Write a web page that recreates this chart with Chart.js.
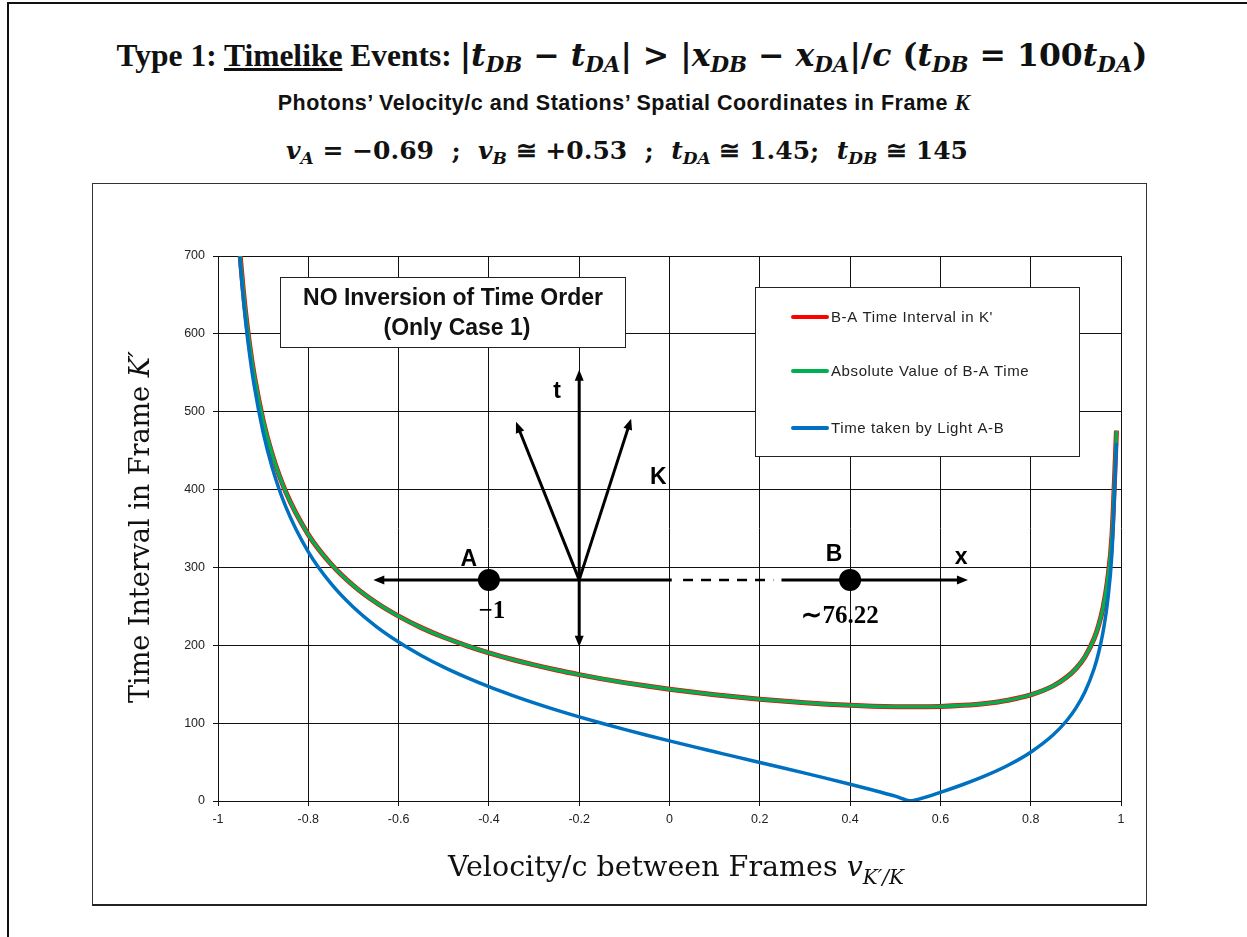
<!DOCTYPE html>
<html>
<head>
<meta charset="utf-8">
<script src="https://cdn.jsdelivr.net/npm/chart.js@4.4.0/dist/chart.umd.min.js"></script>
<style>
  body { margin: 0; width: 1247px; height: 937px; background: #fff; position: relative; overflow: hidden; }
  .edge { position: absolute; left: 7px; top: 2px; width: 1250px; height: 950px;
          border-top: 2px solid #111; border-left: 2px solid #111; }
  .hd { position: absolute; white-space: nowrap; color: #111; transform: translateX(-50%); }
  .t1 { left: 632px; top: 36px; font: bold 31.5px "Liberation Serif", serif; }
  .t2 { left: 624px; top: 90px; font: bold 21.5px "Liberation Sans", Arial, sans-serif; letter-spacing: 0.5px; }
  .t3 { left: 627px; top: 136px; font: bold 25px "Liberation Serif", serif; }
  .m { font-family: "DejaVu Serif", serif; }
  .m i { font-style: italic; }
  sub { font-size: 0.68em; vertical-align: -0.3em; font-style: italic; }
  .box { position: absolute; left: 92px; top: 183px; width: 1053px; height: 720px;
         border: 1px solid #333; border-bottom: 2px solid #222; }
  canvas { display: block; }
</style>
</head>
<body>
<div class="edge"></div>

<div class="hd t1">Type 1: <u>Timelike</u> Events: <span class="m">|<i>t</i><sub>DB</sub> − <i>t</i><sub>DA</sub>| &gt; |<i>x</i><sub>DB</sub> − <i>x</i><sub>DA</sub>|/<i>c</i> (<i>t</i><sub>DB</sub> = 100<i>t</i><sub>DA</sub>)</span></div>
<div class="hd t2">Photons’ Velocity/c and Stations’ Spatial Coordinates in Frame <i style="font-family:'Liberation Serif',serif;font-size:23px">K</i></div>
<div class="hd t3 m"><i>v</i><sub>A</sub> = −0.69 &nbsp;; &nbsp;<i>v</i><sub>B</sub> ≅ +0.53 &nbsp;; &nbsp;<i>t</i><sub>DA</sub> ≅ 1.45; &nbsp;<i>t</i><sub>DB</sub> ≅ 145</div>

<div class="box"><canvas id="chart" width="1053" height="720"></canvas></div>

<script>
// ── Velocity/c of K' relative to K ──
const velocities = [-0.952, -0.95, -0.94, -0.93, -0.92, -0.90, -0.88, -0.85, -0.80, -0.75,
                    -0.70, -0.65, -0.60, -0.55, -0.50, -0.45, -0.40, -0.35, -0.30, -0.25,
                    -0.20, -0.15, -0.10, -0.05, 0, 0.05, 0.10, 0.15, 0.20, 0.25,
                    0.30, 0.35, 0.40, 0.45, 0.50, 0.535, 0.55, 0.60, 0.65, 0.70,
                    0.75, 0.80, 0.85, 0.88, 0.90, 0.92, 0.94, 0.95, 0.96, 0.97,
                    0.98, 0.99];

// ── B-A time interval in K' ──
const intervalBA = [709, 694.7, 633.5, 585.9, 547.5, 488.8, 445.3, 397.1, 342.2, 304.6,
                    276.7, 254.9, 237.4, 222.7, 210.3, 199.7, 190.3, 182.1, 174.8, 168.2,
                    162.3, 156.9, 152.0, 147.6, 143.6, 139.9, 136.5, 133.5, 130.7, 128.3,
                    126.2, 124.4, 122.9, 121.8, 121.2, 121.0, 121.0, 121.5, 122.9, 125.3,
                    129.5, 136.3, 147.9, 159.2, 169.9, 185.0, 208.0, 224.8, 247.9, 282.4,
                    341.1, 475.7];

// ── absolute value of the same interval ──
const absIntervalBA = [709, 694.7, 633.5, 585.9, 547.5, 488.8, 445.3, 397.1, 342.2, 304.6,
                       276.7, 254.9, 237.4, 222.7, 210.3, 199.7, 190.3, 182.1, 174.8, 168.2,
                       162.3, 156.9, 152.0, 147.6, 143.6, 139.9, 136.5, 133.5, 130.7, 128.3,
                       126.2, 124.4, 122.9, 121.8, 121.2, 121.0, 121.0, 121.5, 122.9, 125.3,
                       129.5, 136.3, 147.9, 159.2, 169.9, 185.0, 208.0, 224.8, 247.9, 282.4,
                       341.1, 475.7];

// ── light travel time A -> B in K' ──
const lightAB = [699, 684.0, 621.9, 573.3, 534.0, 473.6, 428.5, 378.2, 320.1, 279.5,
                 248.8, 224.4, 204.2, 187.0, 172.0, 158.8, 146.9, 136.1, 126.1, 116.8,
                 108.1, 99.9, 92.0, 84.5, 77.2, 70.1, 63.2, 56.3, 49.5, 42.7,
                 35.8, 28.8, 21.6, 14.1, 6.3, 0.4, 2.1, 11.1, 21.2, 32.6,
                 46.0, 62.7, 85.0, 103.4, 119.3, 140.0, 169.2, 189.4, 216.4, 255.1,
                 318.9, 460.0];

const xTicks = [-1, -0.8, -0.6, -0.4, -0.2, 0, 0.2, 0.4, 0.6, 0.8, 1];
const yTicks = [0, 100, 200, 300, 400, 500, 600, 700];

const seriesNames  = ["B-A Time Interval in K'", "Absolute Value of B-A Time", "Time taken by Light A-B"];
const seriesColors = ["#ff0000", "#00b050", "#0070c0"];

const pts = vals => velocities.map((v, i) => ({ x: v, y: vals[i] }));

// ── spacetime sketch, in chart units ──
const ORIGIN = { x: -0.2, y: 284 };
const STATION_A = { x: -0.4, y: 284 };
const STATION_B = { x: 0.4, y: 284 };

const SANS = '"Liberation Sans", Arial, sans-serif';
const SERIF = '"Liberation Serif", serif';
const TITLE_SERIF = '"DejaVu Serif", serif';

function arrow(ctx, x1, y1, x2, y2) {
  const a = Math.atan2(y2 - y1, x2 - x1);
  const len = 11, half = 4.5;
  ctx.beginPath();
  ctx.moveTo(x1, y1);
  ctx.lineTo(x2 - Math.cos(a) * len * 0.8, y2 - Math.sin(a) * len * 0.8);
  ctx.stroke();
  ctx.beginPath();
  ctx.moveTo(x2, y2);
  ctx.lineTo(x2 - Math.cos(a) * len + Math.sin(a) * half, y2 - Math.sin(a) * len - Math.cos(a) * half);
  ctx.lineTo(x2 - Math.cos(a) * len - Math.sin(a) * half, y2 - Math.sin(a) * len + Math.cos(a) * half);
  ctx.closePath();
  ctx.fill();
}

// draws [text, style, scale, dy] pieces as one run, sized to span `width`, centred on cx
function richText(ctx, parts, cx, y, width) {
  const base = 20;
  const fontOf = (p, size) => `${p[1]} ${(size * p[2]).toFixed(2)}px ${TITLE_SERIF}`;
  let w = 0;
  parts.forEach(p => { ctx.font = fontOf(p, base); w += ctx.measureText(p[0]).width; });
  const size = base * width / w;
  let x = cx - width / 2;
  ctx.textAlign = "left";
  parts.forEach(p => {
    ctx.font = fontOf(p, size);
    ctx.fillText(p[0], x, y + p[3]);
    x += ctx.measureText(p[0]).width;
  });
}

const sketch = {
  id: "sketch",
  afterDatasetsDraw(chart) {
    const ctx = chart.ctx;
    const sx = chart.scales.x, sy = chart.scales.y;
    const px = v => sx.getPixelForValue(v), py = v => sy.getPixelForValue(v);
    ctx.save();

    // note box
    ctx.fillStyle = "#fff";
    ctx.strokeStyle = "#222";
    ctx.lineWidth = 1;
    ctx.fillRect(187, 93, 345, 70);
    ctx.strokeRect(187.5, 93.5, 345, 70);
    ctx.fillStyle = "#111";
    ctx.font = "bold 23px " + SANS;
    ctx.textAlign = "center";
    ctx.textBaseline = "middle";
    ctx.fillText("NO Inversion of Time Order", 360, 115);
    ctx.fillText("(Only Case 1)", 364, 145);

    // legend
    ctx.fillStyle = "#fff";
    ctx.fillRect(662, 103, 324, 169);
    ctx.strokeStyle = "#222";
    ctx.strokeRect(662.5, 103.5, 324, 169);
    ctx.font = "15px " + SANS;
    ctx.letterSpacing = "0.6px";
    ctx.textAlign = "left";
    [133, 187, 244].forEach((ly, i) => {
      ctx.strokeStyle = seriesColors[i];
      ctx.lineWidth = 4;
      ctx.lineCap = "round";
      ctx.beginPath();
      ctx.moveTo(700, ly);
      ctx.lineTo(734, ly);
      ctx.stroke();
      ctx.fillStyle = "#222";
      ctx.fillText(seriesNames[i], 738, ly + 1);
    });
    ctx.letterSpacing = "0px";
    ctx.lineCap = "butt";

    // axes of frame K
    const ox = px(ORIGIN.x), oy = py(ORIGIN.y);
    ctx.strokeStyle = "#000";
    ctx.fillStyle = "#000";
    ctx.lineWidth = 3;
    arrow(ctx, ox, oy, ox, py(554));
    arrow(ctx, ox, oy, ox, py(198));
    arrow(ctx, ox, oy, px(-0.34), py(487));
    arrow(ctx, ox, oy, px(-0.085), py(491));
    arrow(ctx, ox, oy, px(-0.656), oy);
    ctx.beginPath();
    ctx.moveTo(ox, oy);
    ctx.lineTo(px(0.005), oy);
    ctx.stroke();
    ctx.setLineDash([10, 8]);
    ctx.lineWidth = 2.5;
    ctx.beginPath();
    ctx.moveTo(px(0.03), oy);
    ctx.lineTo(px(0.23), oy);
    ctx.stroke();
    ctx.setLineDash([]);
    ctx.lineWidth = 3;
    arrow(ctx, px(0.248), oy, px(0.661), oy);

    // stations
    [STATION_A, STATION_B].forEach(s => {
      ctx.beginPath();
      ctx.arc(px(s.x), py(s.y), 11, 0, 2 * Math.PI);
      ctx.fill();
    });

    ctx.font = "bold 23px " + SANS;
    ctx.textAlign = "center";
    ctx.textBaseline = "middle";
    ctx.fillText("t", ox - 22, oy - 188);
    ctx.fillText("K", ox + 79, oy - 102);
    const ax = px(STATION_A.x), bx = px(STATION_B.x);
    ctx.fillText("A", ax - 20, oy - 20);
    ctx.fillText("B", bx - 16, oy - 25);
    ctx.fillText("x", bx + 111, oy - 22);

    ctx.font = "bold 25px " + SERIF;
    ctx.fillText("−1", ax + 3, oy + 32);
    ctx.fillText("∼76.22", bx - 10, oy + 37);

    ctx.restore();
  },
  afterDraw(chart) {
    const ctx = chart.ctx;
    ctx.save();
    ctx.fillStyle = "#111";
    ctx.textBaseline = "alphabetic";

    // y title: Time Interval in Frame K'
    ctx.translate(56, 343);
    ctx.rotate(-Math.PI / 2);
    richText(ctx, [["Time Interval in Frame ", "", 1, 0], ["K′", "italic", 1, 0]], 0, 0, 352);
    ctx.setTransform(1, 0, 0, 1, 0, 0);

    // x title: Velocity/c between Frames v_K'/K
    richText(ctx, [["Velocity/c between Frames ", "", 1, 0], ["v", "italic", 1, 0],
                   ["K′/K", "italic", 0.7, 8]], 583, 692, 456);
    ctx.restore();
  }
};

function lineSet(i, vals, width, order) {
  return {
    label: seriesNames[i],
    data: pts(vals),
    borderColor: seriesColors[i],
    borderWidth: width,
    pointRadius: 0,
    fill: false,
    cubicInterpolationMode: "monotone",
    clip: 0,
    order: order
  };
}

new Chart(document.getElementById("chart"), {
  type: "line",
  data: {
    datasets: [
      lineSet(0, intervalBA, 5, 3),
      lineSet(1, absIntervalBA, 3.5, 2),
      lineSet(2, lightAB, 3.5, 1)
    ]
  },
  options: {
    responsive: false,
    animation: false,
    devicePixelRatio: 1,
    layout: { padding: { left: 65, right: 25, top: 72, bottom: 73 } },
    plugins: { legend: { display: false }, tooltip: { enabled: false } },
    scales: {
      x: {
        type: "linear",
        min: -1, max: 1,
        afterBuildTicks: s => { s.ticks = xTicks.map(v => ({ value: v })); },
        afterFit: s => { s.height = 30; },
        ticks: {
          color: "#222",
          font: { family: SANS, size: 12.5 },
          padding: 6,
          maxRotation: 0,
          callback: v => String(Math.round(v * 10) / 10)
        },
        grid: { color: "#111", lineWidth: 1, tickLength: 5 },
        border: { color: "#111" }
      },
      y: {
        min: 0, max: 700,
        afterBuildTicks: s => { s.ticks = yTicks.map(v => ({ value: v })); },
        afterFit: s => { s.width = 60; },
        ticks: {
          color: "#222",
          font: { family: SANS, size: 12.5 },
          padding: 8
        },
        grid: { color: "#111", lineWidth: 1, tickLength: 5 },
        border: { color: "#111" }
      }
    }
  },
  plugins: [sketch]
});
</script>
</body>
</html>
